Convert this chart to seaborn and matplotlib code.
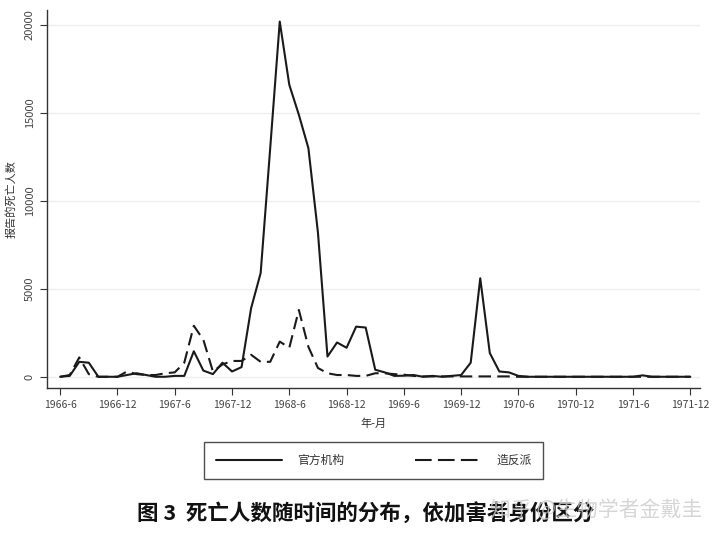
import matplotlib
matplotlib.use("Agg")
import matplotlib.pyplot as plt
import seaborn as sns
import numpy as np
import pandas as pd
from matplotlib.lines import Line2D

# monthly counts, 1966-6 .. 1971-12 (67 months)
official = [0, 50, 850, 800, 0, 0, 0, 100, 200, 100,
            0, 0, 50, 50, 1450, 350, 150, 800, 300, 550,
            3900, 5900, 13000, 20200, 16600, 14900, 13000, 8200, 1150, 1950,
            1650, 2850, 2800, 400, 250, 50, 60, 100, 0, 50,
            0, 50, 100, 800, 5600, 1350, 300, 250, 50, 0,
            0, 0, 0, 0, 0, 0, 0, 0, 0, 0,
            0, 80, 0, 0, 0, 0, 0]
rebels = [0, 100, 1100, 150, 0, 0, 0, 300, 150, 100,
          100, 200, 250, 800, 2900, 2100, 300, 700, 900, 900,
          1250, 850, 850, 2000, 1650, 3800, 1700, 500, 200, 100,
          100, 50, 50, 200, 200, 150, 120, 50, 20, 20,
          20, 20, 20, 20, 20, 20, 20, 20, 0, 0,
          0, 0, 0, 0, 0, 0, 0, 0, 0, 0,
          0, 0, 0, 0, 0, 0, 0]
tick_labels = ["1966-6", "1966-12", "1967-6", "1967-12", "1968-6", "1968-12",
               "1969-6", "1969-12", "1970-6", "1970-12", "1971-6", "1971-12"]
series_names = ["官方机构", "造反派"]
y_ticks = [0, 5000, 10000, 15000, 20000]

sns.set_style("white")
plt.rcParams['font.family'] = ['Noto Sans CJK SC', 'DejaVu Sans']

n = len(official)
df = pd.DataFrame({
    "month": list(range(n)) * 2,
    "deaths": official + rebels,
    "who": [series_names[0]] * n + [series_names[1]] * n,
})

fig = plt.figure(figsize=(7.2, 5.33), dpi=100)
ax = fig.add_axes([0.065, 0.272, 0.907, 0.709])

sns.lineplot(data=df, x="month", y="deaths", style="who",
             dashes={series_names[0]: "", series_names[1]: (6, 3)},
             color="#1a1a1a", linewidth=1.5, legend=False, ax=ax)

ax.set_xlim(-1.4, 67)
ax.set_ylim(-640, 20850)
ax.set_xticks(range(0, n, 6))
ax.set_xticklabels(tick_labels, fontsize=7.5, color="#444444")
ax.set_yticks(y_ticks)
ax.set_yticklabels([str(v) for v in y_ticks], rotation=90, va="center",
                   fontsize=8, color="#444444")
ax.tick_params(axis="both", direction="out", length=5, width=0.8,
               color="#333333", bottom=True, left=True)
ax.yaxis.grid(True, color="#eeeeee", linewidth=1)
for s in ["top", "right"]:
    ax.spines[s].set_visible(False)
for s in ["left", "bottom"]:
    ax.spines[s].set_color("#333333")
    ax.spines[s].set_linewidth(1)

ax.set_xlabel("年-月", fontsize=8, color="#333333", labelpad=6)
ax.set_ylabel("报告的死亡人数", fontsize=8, color="#333333", labelpad=6)

handles = [Line2D([], [], color="#1a1a1a", lw=1.5),
           Line2D([], [], color="#1a1a1a", lw=1.5, dashes=(8, 3))]
leg = fig.legend(handles, series_names, loc="center",
                 bbox_to_anchor=(0.519, 0.136), ncol=2, fontsize=8.5,
                 frameon=True, fancybox=False, edgecolor="#222222",
                 handlelength=5.6, columnspacing=6, handletextpad=1.3,
                 borderpad=1.0)
leg.get_frame().set_linewidth(1)
for t in leg.get_texts():
    t.set_color("#333333")

fig.text(0.19, 0.037, "图 3  死亡人数随时间的分布，依加害者身份区分",
         fontsize=15.5, fontweight="bold", color="#111111", ha="left", va="center")
fig.text(0.68, 0.042, "知乎 @生物学者金戴圭", fontsize=15,
         color="#cccccc", alpha=0.8, ha="left", va="center")

fig.savefig("out.png", dpi=100)
plt.close(fig)
